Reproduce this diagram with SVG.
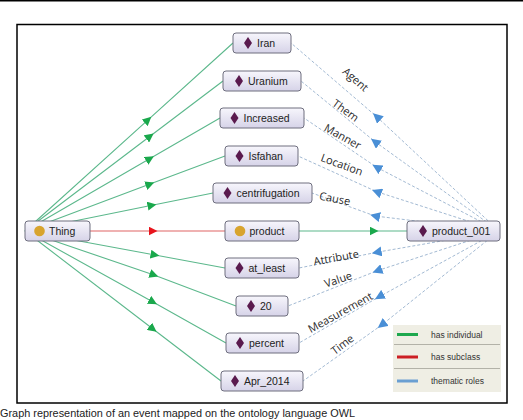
<svg xmlns="http://www.w3.org/2000/svg" width="523" height="420" viewBox="0 0 523 420">
<defs>
<linearGradient id="ng" x1="0" y1="0" x2="0" y2="1">
<stop offset="0" stop-color="#f7f6fc"/>
<stop offset="1" stop-color="#d6d3e8"/>
</linearGradient>
<marker id="ag" viewBox="0 0 10 10" refX="5" refY="5" markerWidth="9" markerHeight="9" markerUnits="userSpaceOnUse" orient="auto"><path d="M0,0 L10,5 L0,10 Z" fill="#1aa84c"/></marker>
<marker id="ar" viewBox="0 0 10 10" refX="5" refY="5" markerWidth="9" markerHeight="9" markerUnits="userSpaceOnUse" orient="auto"><path d="M0,0 L10,5 L0,10 Z" fill="#e8141c"/></marker>
<marker id="ab" viewBox="0 0 10 10" refX="5" refY="5" markerWidth="10" markerHeight="10" markerUnits="userSpaceOnUse" orient="auto"><path d="M0,0 L10,5 L0,10 Z" fill="#4a8fd6"/></marker>
</defs>
<style>
.g{fill:none;stroke:#5cb88c;stroke-width:1.1;marker-mid:url(#ag)}
.r{fill:none;stroke:#e06464;stroke-width:1.1;marker-mid:url(#ar)}
.b{fill:none;stroke:#a3bad3;stroke-width:1;stroke-dasharray:3 2;marker-mid:url(#ab)}
.n{fill:url(#ng);stroke:#6e6e7e;stroke-width:1}
.d{fill:#5a1a4e}
.c{fill:#d8a42e}
.t{font-family:"Liberation Sans",Arial,sans-serif;font-size:10.5px;fill:#222;dominant-baseline:central}
.l{font-family:"Open Sans","Liberation Sans",sans-serif;font-size:11px;fill:#2a2a2a;text-anchor:middle;dominant-baseline:central}
.lg{font-family:"Liberation Sans",Arial,sans-serif;font-size:8.5px;fill:#333;dominant-baseline:central}
</style>
<rect x="0" y="0" width="523" height="420" fill="#fff"/>
<line x1="0" y1="0.5" x2="523" y2="0.5" stroke="#000" stroke-width="2"/>
<rect x="17" y="24.5" width="490" height="378.5" fill="#fff" stroke="#000" stroke-width="1.5"/>
<g id="connectors">
<path class="g" d="M25,231 L148,119.8 L233,43"/>
<path class="g" d="M25,231 L150,136.3 L223,81"/>
<path class="g" d="M25,231 L150,158.6 L220,118"/>
<path class="g" d="M25,231 L150,184.1 L225,156"/>
<path class="g" d="M25,231 L152,205.3 L213,193"/>
<path class="r" d="M90,231 L153,231 L225,231"/>
<path class="g" d="M25,231 L155,255 L225,268"/>
<path class="g" d="M25,231 L154,275 L236,306"/>
<path class="g" d="M25,231 L153,302 L226,343"/>
<path class="g" d="M25,231 L153,329 L221,381"/>
<path class="g" d="M299,231 L374,231 L407,231"/>
<path class="b" d="M499,231 L376.7,116.7 L291,43"/>
<path class="b" d="M499,231 L375,141.7 L301,81"/>
<path class="b" d="M499,231 L376.7,167.3 L304,118"/>
<path class="b" d="M499,231 L376.7,191.7 L298,156"/>
<path class="b" d="M499,231 L375,216 L312,193"/>
<path class="b" d="M499,231 L376.7,252.3 L299,268"/>
<path class="b" d="M499,231 L377.3,270.7 L288,306"/>
<path class="b" d="M499,231 L379.3,296.7 L299,343"/>
<path class="b" d="M499,231 L381.7,325 L303,381"/>
<text class="l" transform="translate(356,79) rotate(41)">Agent</text>
<text class="l" transform="translate(346,110) rotate(36)">Them</text>
<text class="l" transform="translate(343,136) rotate(29)">Manner</text>
<text class="l" transform="translate(342,164) rotate(20)">Location</text>
<text class="l" transform="translate(335,198) rotate(11)">Cause</text>
<text class="l" transform="translate(336,257) rotate(-10)">Attribute</text>
<text class="l" transform="translate(338,279) rotate(-19)">Value</text>
<text class="l" transform="translate(340,312) rotate(-29)">Measurement</text>
<text class="l" transform="translate(342,344) rotate(-37)">Time</text>
</g>
<g id="Thing"><rect class="n" x="25" y="221" width="65" height="20" rx="3"/><circle class="c" cx="39.5" cy="231" r="5.3"/><text class="t" x="49" y="231">Thing</text></g>
<g id="Iran"><rect class="n" x="233" y="33" width="58" height="20" rx="3"/><path class="d" d="M248,37 L252,43 L248,49 L244,43 Z"/><text class="t" x="257" y="43">Iran</text></g>
<g id="Uranium"><rect class="n" x="223" y="71" width="78" height="20" rx="3"/><path class="d" d="M239,75 L243,81 L239,87 L235,81 Z"/><text class="t" x="248" y="81">Uranium</text></g>
<g id="Increased"><rect class="n" x="220" y="108" width="84" height="20" rx="3"/><path class="d" d="M234.5,112 L238.5,118 L234.5,124 L230.5,118 Z"/><text class="t" x="243.5" y="118">Increased</text></g>
<g id="Isfahan"><rect class="n" x="225" y="146" width="73" height="20" rx="3"/><path class="d" d="M239.5,150 L243.5,156 L239.5,162 L235.5,156 Z"/><text class="t" x="248.5" y="156">Isfahan</text></g>
<g id="centrifugation"><rect class="n" x="213" y="183" width="99" height="20" rx="3"/><path class="d" d="M227.5,187 L231.5,193 L227.5,199 L223.5,193 Z"/><text class="t" x="236.5" y="193">centrifugation</text></g>
<g id="product"><rect class="n" x="225" y="221" width="74" height="20" rx="3"/><circle class="c" cx="240" cy="231" r="5.3"/><text class="t" x="249.5" y="231">product</text></g>
<g id="at_least"><rect class="n" x="225" y="258" width="74" height="20" rx="3"/><path class="d" d="M239.5,262 L243.5,268 L239.5,274 L235.5,268 Z"/><text class="t" x="248.5" y="268">at_least</text></g>
<g id="n20"><rect class="n" x="236" y="296" width="52" height="20" rx="3"/><path class="d" d="M251,300 L255,306 L251,312 L247,306 Z"/><text class="t" x="260" y="306">20</text></g>
<g id="percent"><rect class="n" x="226" y="333" width="73" height="20" rx="3"/><path class="d" d="M240,337 L244,343 L240,349 L236,343 Z"/><text class="t" x="249" y="343">percent</text></g>
<g id="Apr_2014"><rect class="n" x="221" y="371" width="82" height="20" rx="3"/><path class="d" d="M235,375 L239,381 L235,387 L231,381 Z"/><text class="t" x="244" y="381">Apr_2014</text></g>
<g id="product_001"><rect class="n" x="407" y="221" width="93" height="20" rx="3"/><path class="d" d="M423,225 L427,231 L423,237 L419,231 Z"/><text class="t" x="432" y="231">product_001</text></g>
<g id="legend">
<rect x="393" y="325" width="108" height="67" fill="#efeee4"/>
<line x1="394" y1="344.5" x2="500" y2="344.5" stroke="#b3b2a8" stroke-width="1"/>
<line x1="394" y1="368.5" x2="500" y2="368.5" stroke="#b3b2a8" stroke-width="1"/>
<line x1="397" y1="334.5" x2="418" y2="334.5" stroke="#1ea84e" stroke-width="3"/>
<line x1="397" y1="357" x2="418" y2="357" stroke="#cc1f24" stroke-width="3"/>
<line x1="397" y1="381" x2="418" y2="381" stroke="#6a9fd2" stroke-width="3"/>
<text class="lg" x="431" y="334.5">has individual</text>
<text class="lg" x="431" y="357">has subclass</text>
<text class="lg" x="431" y="381">thematic roles</text>
</g>
<text x="0" y="416.5" font-family="Liberation Sans, Arial, sans-serif" font-size="11" fill="#222" textLength="355" lengthAdjust="spacingAndGlyphs">Graph representation of an event mapped on the ontology language OWL</text>
</svg>
